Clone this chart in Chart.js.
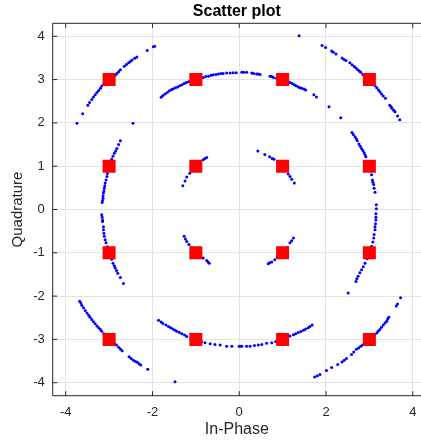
<!DOCTYPE html>
<html>
<head>
<meta charset="utf-8">
<script src="https://cdn.jsdelivr.net/npm/chart.js@4"></script>
<style>
  html, body { margin: 0; padding: 0; overflow: hidden; background: #fff; }
</style>
</head>
<body>
<canvas id="scatterChart" width="421" height="441"></canvas>
<script>
// received symbols, grouped by ring
const outerRing = [
  [-3.74,1.99],[-3.61,2.21],[-3.49,2.41],[-3.45,2.47],[-3.40,2.54],[-3.36,2.60],[-3.32,2.65],[-3.28,2.70],
  [-3.24,2.75],[-3.20,2.80],[-3.17,2.85],[-3.12,2.90],[-3.07,2.94],[-3.02,2.98],[-2.97,3.02],[-2.91,3.06],
  [-2.86,3.10],[-2.82,3.14],[-2.78,3.18],[-2.74,3.23],[-2.65,3.31],[-2.60,3.35],[-2.55,3.39],[-2.51,3.42],
  [-2.47,3.45],[-2.41,3.49],[-2.36,3.52],[-2.12,3.67],[-1.95,3.77],[-1.98,3.76],
  [1.38,4.01],[1.91,3.79],[1.99,3.74],[2.13,3.66],[2.17,3.63],[2.23,3.59],[2.37,3.50],[2.41,3.47],
  [2.46,3.44],[2.55,3.39],[2.60,3.34],[2.65,3.30],[2.69,3.27],[2.73,3.23],[2.77,3.20],[2.80,3.17],
  [2.85,3.12],[2.91,3.06],[2.97,3.02],[3.03,2.97],[3.08,2.92],[3.13,2.86],[3.17,2.81],[3.21,2.76],
  [3.24,2.72],[3.28,2.67],[3.32,2.62],[3.37,2.57],[3.47,2.41],[3.50,2.37],[3.52,2.34],[3.56,2.29],
  [3.59,2.26],[3.65,2.16],[3.70,2.07],
  [-3.68,-2.12],[-3.65,-2.16],[-3.63,-2.21],[-3.59,-2.27],[-3.55,-2.33],[-3.51,-2.39],[-3.47,-2.44],
  [-3.44,-2.49],[-3.40,-2.54],[-3.36,-2.59],[-3.32,-2.64],[-3.28,-2.69],[-3.24,-2.73],[-3.20,-2.77],
  [-3.17,-2.81],[-3.12,-2.87],[-3.06,-2.93],[-3.00,-2.99],[-2.94,-3.04],[-2.88,-3.09],[-2.83,-3.13],
  [-2.78,-3.18],[-2.74,-3.22],[-2.70,-3.26],[-2.54,-3.40],[-2.49,-3.44],[-2.44,-3.48],[-2.39,-3.51],
  [-2.35,-3.53],[-2.31,-3.56],[-2.27,-3.59],[-2.11,-3.69],[-1.48,-3.98],
  [3.72,-2.04],[3.65,-2.18],[3.62,-2.23],[3.45,-2.49],[3.42,-2.53],[3.40,-2.58],[3.36,-2.62],[3.32,-2.67],
  [3.28,-2.72],[3.24,-2.77],[3.20,-2.81],[3.17,-2.85],[3.12,-2.90],[3.06,-2.95],[3.00,-3.00],[2.94,-3.05],
  [2.88,-3.10],[2.84,-3.13],[2.80,-3.16],[2.75,-3.20],[2.70,-3.23],[2.64,-3.29],[2.59,-3.35],[2.47,-3.44],
  [2.42,-3.48],[2.37,-3.52],[2.27,-3.58],[2.13,-3.65],[2.01,-3.72],[1.86,-3.81],[1.80,-3.84],[1.74,-3.87]
];

const middleRing = [
  [-1.80,2.59],[-1.76,2.63],[-1.71,2.67],[-1.66,2.70],[-1.61,2.74],[-1.56,2.77],[-1.52,2.79],[-1.47,2.81],
  [-1.42,2.83],[-1.37,2.86],[-1.32,2.88],[-1.27,2.91],[-1.22,2.93],[-1.17,2.95],[-1.13,2.96],[-1.05,2.98],
  [-0.97,3.01],[-0.90,3.03],[-0.83,3.05],[-0.77,3.07],[-0.71,3.08],[-0.65,3.10],[-0.60,3.11],[-0.54,3.12],
  [-0.48,3.13],[-0.42,3.14],[-0.37,3.14],[-0.29,3.15],[-0.21,3.15],[-0.14,3.16],[-0.07,3.16],
  [0.06,3.17],[0.10,3.17],[0.17,3.17],[0.29,3.15],[0.33,3.14],[0.40,3.13],[0.44,3.13],[0.48,3.12],
  [0.71,3.08],[0.75,3.07],[0.79,3.05],[0.86,3.03],[0.93,3.02],[1.00,3.00],[1.06,2.98],[1.12,2.96],
  [1.17,2.93],[1.22,2.91],[1.27,2.88],[1.31,2.86],[1.36,2.83],[1.40,2.81],[1.44,2.80],[1.49,2.78],
  [1.53,2.76],[1.72,2.65],[1.78,2.60],[2.07,2.37],[2.34,2.12],
  [-2.45,1.99],[-2.74,1.59],[-2.78,1.50],[-2.82,1.41],[-2.85,1.35],[-2.88,1.30],[-2.91,1.23],[-2.94,1.16],
  [-2.97,1.07],[-3.00,0.98],[-3.02,0.90],[-3.04,0.83],[-3.05,0.76],[-3.07,0.68],[-3.09,0.61],[-3.10,0.55],
  [-3.11,0.49],[-3.12,0.43],[-3.13,0.38],[-3.14,0.32],[-3.14,0.26],[-3.15,0.21],[-3.16,0.16],
  [-3.17,-0.12],[-3.16,-0.18],[-3.15,-0.24],[-3.15,-0.28],[-3.13,-0.40],[-3.13,-0.47],[-3.12,-0.55],
  [-3.11,-0.62],[-3.09,-0.70],[-3.07,-0.77],[-3.04,-0.86],[-3.01,-0.96],[-2.98,-1.05],[-2.94,-1.15],
  [-2.91,-1.24],[-2.88,-1.30],[-2.86,-1.35],[-2.83,-1.41],[-2.80,-1.47],[-2.74,-1.57],[-2.67,-1.71],
  [2.60,1.78],[2.63,1.73],[2.67,1.68],[2.70,1.63],[2.72,1.59],[2.76,1.51],[2.79,1.46],[2.82,1.41],
  [2.85,1.36],[2.88,1.31],[2.90,1.26],[2.92,1.22],[2.96,1.10],[2.99,1.01],[3.02,0.90],[3.05,0.80],
  [3.07,0.68],[3.08,0.63],[3.10,0.58],[3.11,0.49],[3.13,0.40],[3.16,0.11],
  [3.16,0.02],[3.15,-0.10],[3.15,-0.18],[3.15,-0.24],[3.14,-0.33],[3.13,-0.40],[3.13,-0.47],[3.11,-0.58],
  [3.10,-0.66],[3.08,-0.75],[3.05,-0.85],[3.02,-0.94],[2.99,-1.04],[2.95,-1.14],[2.90,-1.24],[2.86,-1.32],
  [2.82,-1.39],[2.78,-1.46],[2.74,-1.54],[2.71,-1.60],[2.69,-1.66],[2.51,-1.93],
  [1.68,-2.67],[1.63,-2.70],[1.59,-2.73],[1.53,-2.76],[1.48,-2.79],[1.42,-2.82],[1.36,-2.84],[1.30,-2.87],
  [1.25,-2.89],[1.17,-2.92],[1.08,-2.95],[1.00,-2.99],[0.92,-3.02],[0.84,-3.05],[0.75,-3.08],[0.63,-3.09],
  [0.52,-3.12],[0.44,-3.13],[0.35,-3.14],[0.25,-3.16],[0.17,-3.16],[0.06,-3.16],[0.02,-3.16],
  [-1.86,-2.56],[-1.80,-2.60],[-1.76,-2.63],[-1.69,-2.67],[-1.63,-2.70],[-1.58,-2.73],[-1.53,-2.76],
  [-1.48,-2.79],[-1.44,-2.81],[-1.38,-2.84],[-1.32,-2.87],[-1.26,-2.90],[-1.21,-2.93],[-1.12,-2.96],
  [-1.03,-2.99],[-0.95,-3.02],[-0.87,-3.05],[-0.79,-3.08],[-0.67,-3.10],[-0.56,-3.12],[-0.44,-3.13],
  [-0.29,-3.16],[-0.17,-3.16],[0.00,-3.16]
];

const innerRing = [
  [-0.75,1.20],[-0.79,1.18],[-0.83,1.15],[-0.90,1.09],[-0.96,1.03],[-1.02,0.97],[-1.08,0.90],[-1.14,0.84],
  [-1.21,0.75],[-1.25,0.66],[-1.30,0.55],
  [0.43,1.35],[0.59,1.27],[0.70,1.22],[0.76,1.18],[0.80,1.16],[0.88,1.10],[0.95,1.04],[1.02,0.97],
  [1.08,0.90],[1.13,0.82],[1.17,0.76],[1.21,0.70],[1.27,0.61],
  [-1.27,-0.62],[-1.24,-0.68],[-1.21,-0.74],[-1.16,-0.81],[-1.10,-0.88],[-1.03,-0.96],[-0.96,-1.03],
  [-0.89,-1.08],[-0.83,-1.12],[-0.75,-1.18],[-0.72,-1.21],[-0.69,-1.24],
  [1.25,-0.66],[1.21,-0.72],[1.17,-0.77],[1.10,-0.88],[1.03,-0.96],[0.96,-1.03],[0.88,-1.10],
  [0.82,-1.16],[0.75,-1.21],[0.70,-1.23],[0.67,-1.25]
];

// ideal 16-QAM constellation
const refPoints = [
  [-3,3],[-1,3],[1,3],[3,3],
  [-3,1],[-1,1],[1,1],[3,1],
  [-3,-1],[-1,-1],[1,-1],[3,-1],
  [-3,-3],[-1,-3],[1,-3],[3,-3]
];

const xTicks = [-4, -2, 0, 2, 4];
const yTicks = [-4, -3, -2, -1, 0, 1, 2, 3, 4];

const FONT = "'Liberation Sans', Arial, Helvetica, sans-serif";
const TEXT = "#262626";

const toXY = (list) => list.map((p) => ({ x: p[0], y: p[1] }));

// matlab style box with inward ticks; the right side of the box
// falls just outside the picture, so only three sides show
const axesBox = {
  id: "axesBox",
  afterDatasetsDraw(chart) {
    const { ctx, chartArea: a, scales } = chart;
    const len = 4.5;
    ctx.save();
    ctx.strokeStyle = TEXT;
    ctx.lineWidth = 1;
    ctx.beginPath();
    xTicks.forEach((v) => {
      const px = scales.x.getPixelForValue(v);
      ctx.moveTo(px, a.bottom); ctx.lineTo(px, a.bottom - len);
      ctx.moveTo(px, a.top); ctx.lineTo(px, a.top + len);
    });
    yTicks.forEach((v) => {
      const py = scales.y.getPixelForValue(v);
      ctx.moveTo(a.left, py); ctx.lineTo(a.left + len, py);
    });
    ctx.moveTo(a.right, a.top); ctx.lineTo(a.left, a.top);
    ctx.lineTo(a.left, a.bottom); ctx.lineTo(a.right, a.bottom);
    ctx.stroke();
    ctx.restore();
  },
};

new Chart(document.getElementById("scatterChart"), {
  type: "scatter",
  data: {
    datasets: [
      {
        label: "Reference",
        data: toXY(refPoints),
        pointStyle: "rect",
        pointRadius: 9.2,
        backgroundColor: "#ff0000",
        borderWidth: 0,
      },
      {
        label: "Received",
        data: toXY(outerRing.concat(middleRing, innerRing)),
        pointRadius: 1.5,
        backgroundColor: "#0000ff",
        borderWidth: 0,
      },
    ],
  },
  options: {
    responsive: false,
    animation: false,
    devicePixelRatio: 1,
    layout: { autoPadding: false, padding: 0 },
    plugins: {
      legend: { display: false },
      tooltip: { enabled: false },
      title: {
        display: true,
        fullSize: false,
        text: "Scatter plot",
        color: "#000",
        font: { family: FONT, size: 16, weight: "bold", lineHeight: 1.2 },
        padding: { top: 1.6, bottom: 2.5 },
      },
    },
    scales: {
      x: {
        type: "linear",
        min: -4.3,
        max: 4.19,
        afterBuildTicks: (s) => { s.ticks = xTicks.map((v) => ({ value: v })); },
        afterFit: (s) => {
          s.height = 45.3;
          s.paddingLeft = 0;
          s.paddingRight = 0;
        },
        grid: { color: "#e3e3e3", drawTicks: false },
        border: { display: false },
        ticks: { padding: 9, color: TEXT, font: { family: FONT, size: 13 } },
        title: {
          display: true,
          text: "In-Phase",
          color: TEXT,
          font: { family: FONT, size: 16, lineHeight: 1.2 },
          padding: { top: 0, bottom: 1.9 },
        },
      },
      y: {
        type: "linear",
        min: -4.3,
        max: 4.3,
        afterBuildTicks: (s) => { s.ticks = yTicks.map((v) => ({ value: v })); },
        afterFit: (s) => {
          s.width = 52.7;
          s.paddingTop = 0;
          s.paddingBottom = 0;
        },
        grid: { color: "#e3e3e3", drawTicks: false },
        border: { display: false },
        ticks: { padding: 8, color: TEXT, font: { family: FONT, size: 13 } },
        title: {
          display: true,
          text: "Quadrature",
          color: TEXT,
          font: { family: FONT, size: 15, lineHeight: 1.2 },
          padding: { top: 8.5, bottom: 0 },
        },
      },
    },
  },
  plugins: [axesBox],
});
</script>
</body>
</html>
